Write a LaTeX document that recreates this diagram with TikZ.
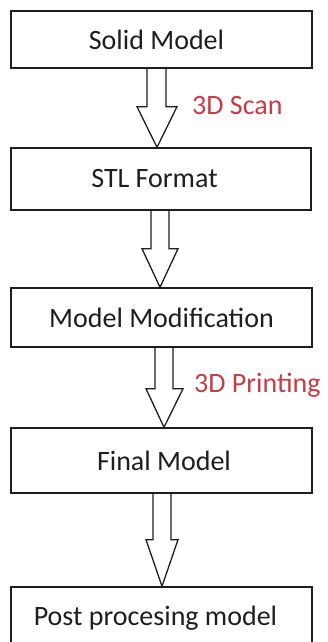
\documentclass[tikz,border=0pt]{standalone}
\usepackage{fontspec}
\setmainfont{Carlito}
\usetikzlibrary{calc}
\definecolor{labred}{RGB}{200,60,70}
\definecolor{ink}{RGB}{30,30,30}
\tikzset{
  stepbox/.style={draw=ink, line width=1.4pt, minimum width=301pt, inner sep=0pt, text=ink, font=\fontsize{28}{30}\selectfont},
  barrow/.style={draw=ink, line width=1.3pt, line join=miter},
  steplabel/.style={anchor=west, inner sep=0pt, text=labred, font=\fontsize{28}{30}\selectfont}
}
\begin{document}
\begin{tikzpicture}[x=1pt,y=-1pt]
\useasboundingbox (0,0) rectangle (327,642);
\clip (0,0) rectangle (327,642);
\fill[white] (0,0) rectangle (327,642);
\node[stepbox, minimum height=57pt] (s1) at (161.5,39.5) {\hspace*{-10pt}Solid Model};
\node[stepbox, minimum height=62pt, minimum width=300pt] (s2) at (161,179) {\hspace*{-13pt}STL Format};
\node[stepbox, minimum height=59pt] (s3) at (161.5,317.5) {Model Modification};
\node[stepbox, minimum height=65pt] (s4) at (161.5,460.5) {\hspace*{5pt}Final Model};
\node[stepbox, minimum height=63pt] (s5) at (161.5,618.5) {\hspace*{-12pt}Post procesing model};
\draw[barrow] ($(s1.south)+(-14.5,0)$) -- ($(s1.south)+(-14.5,38)$) -- ($(s1.south)+(-24.5,38)$) -- ($(s2.north)+(-4,0)$) -- ($(s1.south)+(15.5,38)$) -- ($(s1.south)+(4.5,38)$) -- ($(s1.south)+(4.5,0)$);
\draw[barrow] ($(s2.south)+(-10,0)$) -- ($(s2.south)+(-10,38)$) -- ($(s2.south)+(-19,38)$) -- ($(s3.north)+(-1.5,0)$) -- ($(s2.south)+(17,38)$) -- ($(s2.south)+(8,38)$) -- ($(s2.south)+(8,0)$);
\draw[barrow] ($(s3.south)+(-6.5,0)$) -- ($(s3.south)+(-6.5,41)$) -- ($(s3.south)+(-15.5,41)$) -- ($(s4.north)+(2.5,0)$) -- ($(s3.south)+(21.5,41)$) -- ($(s3.south)+(11.5,41)$) -- ($(s3.south)+(11.5,0)$);
\draw[barrow] ($(s4.south)+(-8.5,0)$) -- ($(s4.south)+(-8.5,46)$) -- ($(s4.south)+(-15.5,46)$) -- ($(s5.north)+(0.5,0)$) -- ($(s4.south)+(16.5,46)$) -- ($(s4.south)+(9.5,46)$) -- ($(s4.south)+(9.5,0)$);
\node[steplabel] (l1) at (192,106) {3D Scan};
\node[steplabel] (l2) at (194,385) {3D Printing};
\end{tikzpicture}
\end{document}
